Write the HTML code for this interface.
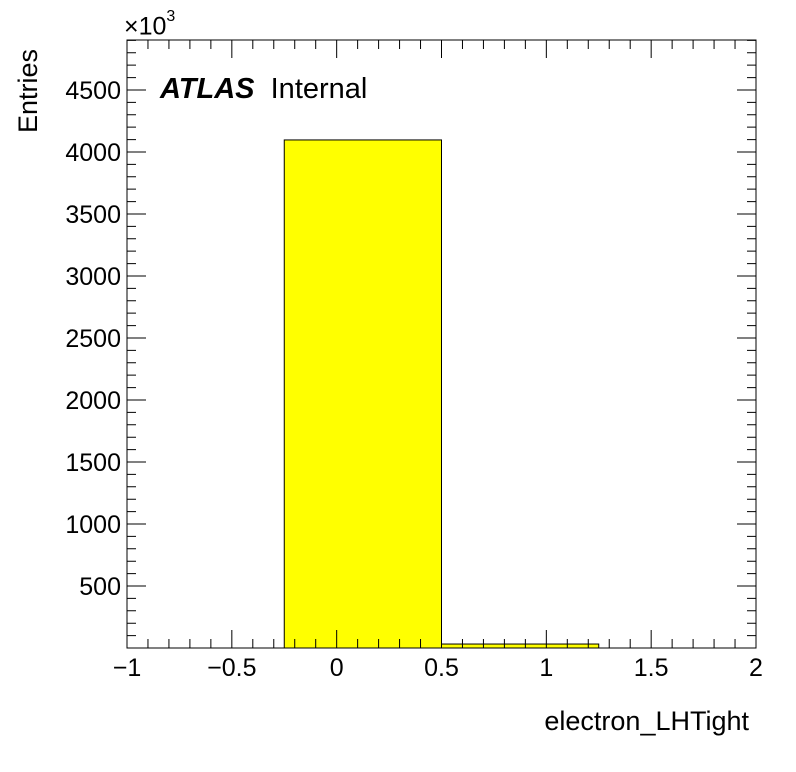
<!DOCTYPE html>
<html><head><meta charset="utf-8"><style>
body{margin:0;background:#fff;}
svg{display:block;font-family:"Liberation Sans",sans-serif;}
</style></head><body>
<svg id="c" width="796" height="772"></svg>
<script>
const binEdges=[-0.25,0.5,1.25];
const binCounts=[4097,32];
const xTicks=[-1,-0.5,0,0.5,1,1.5,2];
const xTickLabels=["\u22121","\u22120.5","0","0.5","1","1.5","2"];
const yTicks=[500,1000,1500,2000,2500,3000,3500,4000,4500];
const L=127,R=756,T=40,B=648,xMin=-1,xMax=2,yMax=4903;
const X=v=>L+(v-xMin)/(xMax-xMin)*(R-L);
const Y=v=>B-v/yMax*(B-T);
const s=document.getElementById('c');
const NS="http://www.w3.org/2000/svg";
function mk(t,a,txt){const e=document.createElementNS(NS,t);for(const k in a)e.setAttribute(k,a[k]);if(txt!==undefined)e.textContent=txt;s.appendChild(e);return e;}
for(let i=0;i<binCounts.length;i++){
 const r=mk('rect',{x:X(binEdges[i]),y:Y(binCounts[i]),width:X(binEdges[i+1])-X(binEdges[i]),height:B-Y(binCounts[i]),fill:'#ffff00',stroke:'#000','stroke-width':1});
 
 
}
const f=mk('rect',{x:L,y:T,width:R-L,height:B-T,fill:'none',stroke:'#000','stroke-width':1});


let d='';
for(let v=-1;v<=2.0001;v+=0.1){const x=X(v);const maj=Math.abs(v*2-Math.round(v*2))<1e-6;const l=maj?18:9;d+=`M${x},${B}v${-l}M${x},${T}v${l}`;}
for(let v=100;v<yMax;v+=100){const y=Y(v);const maj=v%500===0;const l=maj?19:9;d+=`M${L},${y}h${l}M${R},${y}h${-l}`;}
const tk=mk('path',{d:d,stroke:'#000','stroke-width':1,fill:'none'});


xTicks.forEach((v,i)=>{const t=mk('text',{x:X(v),y:676,'font-size':25,'text-anchor':'middle'},xTickLabels[i]);
 
 });
yTicks.forEach(v=>{const t=mk('text',{x:121,y:Y(v)+9,'font-size':25,'text-anchor':'end'},String(v));
 
 });
</script>
<svg width="0" height="0"></svg>
<div style="position:absolute;left:0;top:0;width:796px;height:772px;pointer-events:none;font-family:'Liberation Sans',sans-serif;">
<div style="position:absolute;left:124px;top:8px;font-size:25px;line-height:25px;">×10<sup style="font-size:16px;position:relative;top:-4px;">3</sup></div>
<div style="position:absolute;left:13px;top:133px;font-size:27px;transform:rotate(-90deg);transform-origin:0 0;">Entries</div>
<div style="position:absolute;right:47px;top:706px;font-size:27px;">electron_LHTight</div>
<div style="position:absolute;left:160px;top:73px;font-size:29px;"><b><i>ATLAS</i></b>&nbsp; Internal</div>
</div>
</body></html>
